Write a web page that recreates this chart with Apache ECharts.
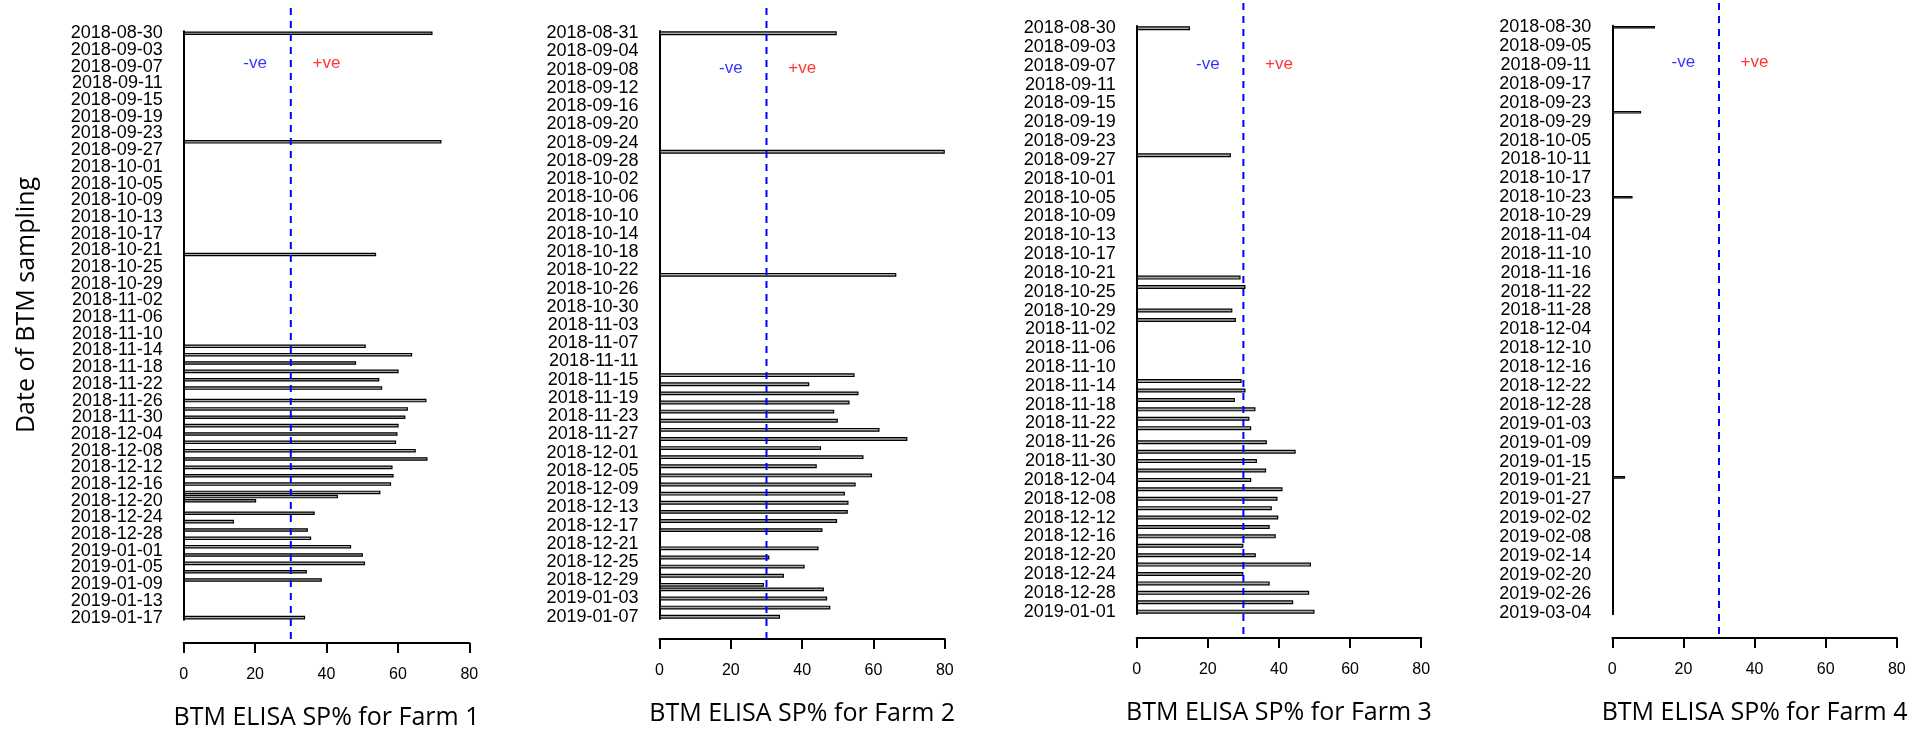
<!DOCTYPE html>
<html><head><meta charset="utf-8">
<script src="https://cdn.jsdelivr.net/npm/echarts@6/dist/echarts.min.js"></script>
<style>html,body{margin:0;padding:0;background:#fff}#c{width:1926px;height:735px}</style>
</head><body><div id="c"></div>
<script>
// ---------- data ----------
const farmTitles = ['BTM ELISA SP% for Farm 1','BTM ELISA SP% for Farm 2','BTM ELISA SP% for Farm 3','BTM ELISA SP% for Farm 4'];
const yTitle = 'Date of BTM sampling';
const cutoff = 30;
const xTicks = [0, 20, 40, 60, 80];
const negLabel = '-ve';
const posLabel = '+ve';

// daily category ranges (first day, last day, days absent from the axis)
const farm1Range = ['2018-08-30', '2019-01-17'];
const farm2Range = ['2018-08-31', '2019-01-07'];
const farm2Skip = ['2018-12-31'];
const farm3Range = ['2018-08-30', '2019-01-01'];
const farm4Range = ['2018-08-30', '2019-03-04'];
const labelEvery = [4, 4, 4, 6];

const farm1Dates = ['2018-08-30','2018-09-25','2018-10-22','2018-11-13','2018-11-15','2018-11-17','2018-11-19','2018-11-21','2018-11-23','2018-11-26','2018-11-28','2018-11-30','2018-12-02','2018-12-04','2018-12-06','2018-12-08','2018-12-10','2018-12-12','2018-12-14','2018-12-16','2018-12-18','2018-12-19','2018-12-20','2018-12-23','2018-12-25','2018-12-27','2018-12-29','2018-12-31','2019-01-02','2019-01-04','2019-01-06','2019-01-08','2019-01-17'];
const farm1Values = [69.7,72.2,53.9,51.0,64.0,48.3,60.2,54.8,55.6,68.0,62.8,62.1,60.2,59.9,59.5,65.0,68.3,58.5,58.8,58.1,55.1,43.2,20.3,36.7,14.1,34.8,35.7,46.9,50.2,50.8,34.5,38.7,34.0];

const farm2Dates = ['2018-08-31','2018-09-26','2018-10-23','2018-11-14','2018-11-16','2018-11-18','2018-11-20','2018-11-22','2018-11-24','2018-11-26','2018-11-28','2018-11-30','2018-12-02','2018-12-04','2018-12-06','2018-12-08','2018-12-10','2018-12-12','2018-12-14','2018-12-16','2018-12-18','2018-12-22','2018-12-24','2018-12-26','2018-12-28','2018-12-30','2019-01-01','2019-01-03','2019-01-05','2019-01-07'];
const farm2Values = [49.7,80.0,66.4,54.7,42.0,55.8,53.3,49.0,50.0,61.7,69.5,45.3,57.2,44.1,59.6,55.0,52.0,53.0,52.8,49.8,45.7,44.6,30.8,40.7,34.9,29.3,46.1,47.0,47.9,33.8];

const farm3Dates = ['2018-08-30','2018-09-26','2018-10-22','2018-10-24','2018-10-29','2018-10-31','2018-11-13','2018-11-15','2018-11-17','2018-11-19','2018-11-21','2018-11-23','2018-11-26','2018-11-28','2018-11-30','2018-12-02','2018-12-04','2018-12-06','2018-12-08','2018-12-10','2018-12-12','2018-12-14','2018-12-16','2018-12-18','2018-12-20','2018-12-22','2018-12-24','2018-12-26','2018-12-28','2018-12-30','2019-01-01'];
const farm3Values = [15.0,26.5,29.2,30.6,26.9,27.9,29.5,30.6,27.6,33.4,31.7,32.2,36.6,44.7,33.8,36.4,32.2,41.0,39.6,38.0,39.8,37.4,39.1,30.0,33.5,49.0,30.0,37.4,48.5,44.0,50.0];

const farm4Dates = ['2018-08-30','2018-09-26','2018-10-23','2019-01-20'];
const farm4Values = [12.0,8.1,5.7,3.6];

// ---------- helpers ----------
function dayRange(start, end, skip) {
  const out = [];
  const d = new Date(start + 'T00:00:00Z');
  const e = new Date(end + 'T00:00:00Z');
  while (d <= e) {
    const s = d.toISOString().slice(0, 10);
    if (!skip || skip.indexOf(s) < 0) out.push(s);
    d.setUTCDate(d.getUTCDate() + 1);
  }
  return out;
}
function fill(cats, dates, vals) {
  const m = {};
  dates.forEach((d, i) => { m[d] = vals[i]; });
  return cats.map(c => (c in m ? m[c] : null));
}

const cats = [
  dayRange(farm1Range[0], farm1Range[1]),
  dayRange(farm2Range[0], farm2Range[1], farm2Skip),
  dayRange(farm3Range[0], farm3Range[1]),
  dayRange(farm4Range[0], farm4Range[1])
];
const vals = [
  fill(cats[0], farm1Dates, farm1Values),
  fill(cats[1], farm2Dates, farm2Values),
  fill(cats[2], farm3Dates, farm3Values),
  fill(cats[3], farm4Dates, farm4Values)
];

// ---------- layout ----------
const layout = [
  {left: 183.7, width: 285.6, barTop: 31.2, barH: 588.5, ovTop: 8, ovBot: 643, annY: 0.087},
  {left: 659.5, width: 285.3, barTop: 31.0, barH: 588.0, ovTop: 8, ovBot: 639, annY: 0.0956},
  {left: 1136.7, width: 284.5, barTop: 25.9, barH: 588.1, ovTop: 3, ovBot: 638, annY: 0.0965},
  {left: 1612.3, width: 284.5, barTop: 25.7, barH: 588.5, ovTop: 3, ovBot: 638, annY: 0.094}
];

const grid = [], xAxis = [], yAxis = [], series = [];
layout.forEach((L, p) => {
  const step = labelEvery[p];
  grid.push({left: L.left, top: L.barTop, width: L.width, height: L.barH});
  grid.push({left: L.left, top: L.ovTop, width: L.width, height: L.ovBot - L.ovTop});
  xAxis.push({gridIndex: 2*p, type: 'value', min: xTicks[0], max: xTicks[xTicks.length-1], show: false});
  xAxis.push({
    gridIndex: 2*p+1, type: 'value', min: xTicks[0], max: xTicks[xTicks.length-1], interval: xTicks[1]-xTicks[0],
    axisLine: {show: true, onZero: false, lineStyle: {color: '#000', width: 2}},
    axisTick: {show: true, inside: false, length: 10, lineStyle: {color: '#000', width: 2}},
    axisLabel: {fontFamily: 'Liberation Sans', fontSize: 16, color: '#000', margin: 24},
    splitLine: {show: false},
    name: farmTitles[p], nameLocation: 'middle', nameGap: 62,
    nameTextStyle: {fontFamily: 'Open Sans', fontSize: 25, color: '#000'}
  });
  yAxis.push({
    gridIndex: 2*p, type: 'category', data: cats[p], inverse: true, boundaryGap: true,
    axisLine: {show: true, lineStyle: {color: '#000', width: 2}},
    axisTick: {show: false},
    axisLabel: {interval: 0,
      formatter: (v, i) => (i % step === 0 ? v : ''),
      fontFamily: 'Liberation Sans', fontSize: 18, color: '#000', margin: 21},
    splitLine: {show: false}
  });
  yAxis.push({gridIndex: 2*p+1, type: 'value', min: 0, max: 1, inverse: true, show: false});
  series.push({
    type: 'bar', xAxisIndex: 2*p, yAxisIndex: 2*p, data: vals[p], barWidth: '85%',
    itemStyle: {color: '#a6a6a6', borderColor: '#000', borderWidth: 1.2},
    silent: true, animation: false
  });
  series.push({
    type: 'line', xAxisIndex: 2*p+1, yAxisIndex: 2*p+1, data: [[cutoff, 0], [cutoff, 1]],
    symbol: 'none', lineStyle: {color: '#0000ff', width: 2, type: [7, 6]},
    silent: true, animation: false
  });
  series.push({
    type: 'scatter', xAxisIndex: 2*p+1, yAxisIndex: 2*p+1, symbolSize: 0,
    data: [
      {value: [cutoff - 10, L.annY], label: {formatter: negLabel, color: '#0000ff'}},
      {value: [cutoff + 10, L.annY], label: {formatter: posLabel, color: '#ff0000'}}
    ],
    label: {show: true, position: 'inside', fontFamily: 'Liberation Sans', fontSize: 17},
    silent: true, animation: false
  });
});

const chart = echarts.init(document.getElementById('c'), null, {renderer: 'canvas'});
chart.setOption({
  backgroundColor: '#fff',
  animation: false,
  grid, xAxis, yAxis, series,
  graphic: [{
    type: 'text', x: 27, y: 305, rotation: Math.PI / 2,
    style: {text: yTitle, fontFamily: 'Open Sans', fontSize: 25, fill: '#000', align: 'center', verticalAlign: 'middle'}
  }]
});
</script>
</body></html>
